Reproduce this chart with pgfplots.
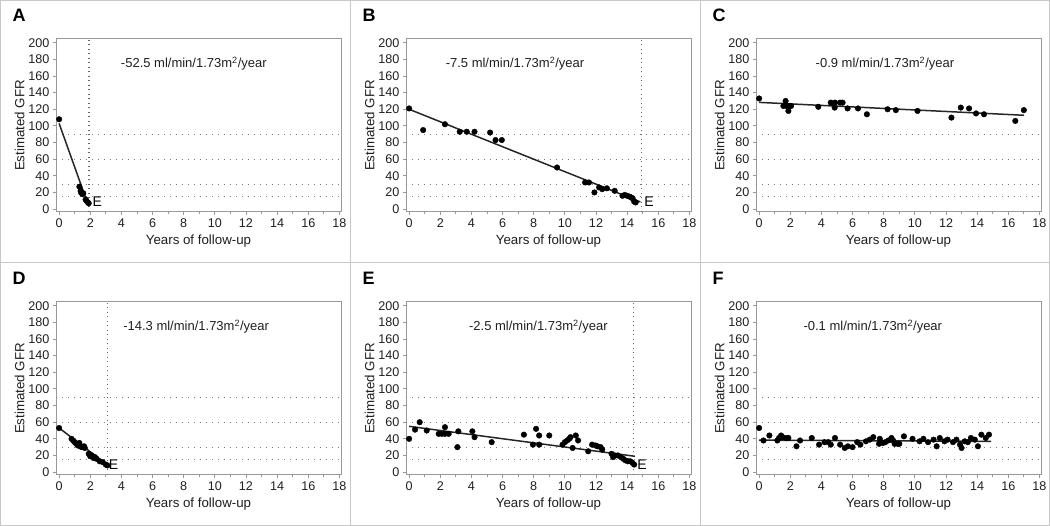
\documentclass[border=0pt]{standalone}
\usepackage{pgfplots}
\pgfplotsset{compat=1.18}
\usepackage{fontspec}
\setmainfont{Liberation Sans}
\definecolor{frame}{gray}{0.78}
\definecolor{axl}{gray}{0.6}
\definecolor{txt}{gray}{0.12}
\definecolor{grd}{gray}{0.5}

\tikzset{gl/.style={grd, line width=1.1pt, dash pattern=on 1.2pt off 4.8pt}}
\pgfplotsset{
  panel/.style={
    scale only axis, width=285pt, height=173pt,
    xmin=-0.2, xmax=18.1, ymin=-3.5, ymax=204.5,
    xtick={0,2,...,18}, ytick={0,20,...,200},
    minor x tick num=1,
    xtick pos=left, ytick pos=left,
    tick align=outside, major tick length=3pt, minor tick length=2pt,
    axis line style={axl, line width=1pt},
    every tick/.style={axl, line width=0.9pt},
    /pgf/number format/assume math mode=true,
    tick label style={font=\fontsize{12.6}{14}\selectfont, text=txt},
    xticklabel style={yshift=-0.5pt},
    label style={font=\fontsize{13.3}{15}\selectfont, text=txt},
    xlabel={Years of follow-up}, ylabel={Estimated GFR},
    xlabel style={yshift=0pt},
    ylabel style={yshift=-3pt},
    clip=false,
  },
  pts/.style={only marks, mark=*, mark size=2.8pt, black},
  fit/.style={no marks, black!85, line width=1.5pt},
}
\newcommand{\grids}{%
  \draw[gl] (axis cs:-0.2,15) -- (axis cs:18.1,15);
  \draw[gl] (axis cs:-0.2,30) -- (axis cs:18.1,30);
  \draw[gl] (axis cs:-0.2,60) -- (axis cs:18.1,60);
  \draw[gl] (axis cs:-0.2,90) -- (axis cs:18.1,90);}
\newcommand{\stopline}[1]{\draw[grd!80!black, line width=1.1pt, dash pattern=on 1.2pt off 3.3pt] (axis cs:#1,-3.5) -- (axis cs:#1,204.5);}
\newcommand{\rate}[3]{\node[font=\fontsize{13}{15}\selectfont, text=txt] at (axis cs:#1,#2) {#3 ml/min/1.73m\textsuperscript{2}/year};}
\newcommand{\Elab}[1]{\node[font=\fontsize{14}{15}\selectfont, anchor=center] at (axis cs:#1,9) {E};}
\newcommand{\plab}[3]{\node[font=\fontsize{18}{19}\selectfont\bfseries, anchor=west] at (#1pt,#2pt) {#3};}

\begin{document}
\begin{tikzpicture}
\useasboundingbox (0pt,0pt) rectangle (1050pt,-526pt);
\draw[frame, line width=1pt] (0.5pt,-0.5pt) rectangle (1049.5pt,-525.5pt);
\draw[frame, line width=1pt] (350pt,0pt) -- (350pt,-526pt);
\draw[frame, line width=1pt] (700pt,0pt) -- (700pt,-526pt);
\draw[frame, line width=1pt] (0pt,-263pt) -- (1050pt,-263pt);
\plab{9}{-15}{A}
\plab{359}{-15}{B}
\plab{709}{-15}{C}
\plab{9}{-278}{D}
\plab{359}{-278}{E}
\plab{709}{-278}{F}

% A
\begin{axis}[panel, at={(56pt,-39pt)}, anchor=north west]
\grids
\stopline{1.92}
\addplot[fit] coordinates {(0,103) (1.88,4.3)};
\addplot[pts] coordinates {(0,108) (1.30,27) (1.38,22) (1.42,19.5) (1.50,18) (1.55,19) (1.70,11.5) (1.76,10) (1.85,8) (1.90,7)};
\rate{8.65}{174.5}{-52.5}
\Elab{2.45}
\end{axis}

% B
\begin{axis}[panel, at={(406pt,-39pt)}, anchor=north west]
\grids
\stopline{14.95}
\addplot[fit] coordinates {(0,120) (14.85,8.6)};
\addplot[pts] coordinates {(0,121) (0.9,95) (2.3,102) (3.25,93) (3.7,93) (4.2,93) (5.2,92) (5.55,83) (5.95,83) (9.5,50) (11.3,32) (11.55,32) (11.9,20) (12.2,26) (12.4,24) (12.7,25) (13.2,22) (13.7,16) (13.85,17) (14.0,16) (14.15,15) (14.25,14) (14.35,13) (14.45,9) (14.55,8)};
\rate{6.8}{174.5}{-7.5}
\Elab{15.4}
\end{axis}

% C
\begin{axis}[panel, at={(756pt,-39pt)}, anchor=north west]
\grids
\addplot[fit] coordinates {(0,128.3) (17,112.8)};
\addplot[pts] coordinates {(0,133) (1.7,130) (1.56,124) (1.75,124) (1.9,124) (2.05,124) (1.88,118) (3.8,123) (4.6,128) (4.87,128) (5.2,128) (5.36,128) (4.85,122) (5.68,121) (6.35,121) (6.92,114) (8.25,120) (8.78,119) (10.17,118) (12.35,110) (12.95,122) (13.48,121) (13.93,115) (14.44,114) (16.45,106) (17.0,119)};
\rate{8.08}{174.5}{-0.9}
\end{axis}

% D
\begin{axis}[panel, at={(56pt,-302pt)}, anchor=north west]
\grids
\stopline{3.1}
\addplot[fit] coordinates {(0,53) (3.1,8.7)};
\addplot[pts] coordinates {(0,53) (0.8,40) (0.9,38) (1.0,36) (1.1,34) (1.2,32) (1.3,35) (1.35,31) (1.45,30) (1.6,31) (1.65,29) (1.9,22) (2.0,19) (2.1,20) (2.2,17) (2.3,18) (2.4,16) (2.6,13) (2.8,12) (3.0,9) (3.1,8)};
\rate{8.8}{174.5}{-14.3}
\Elab{3.5}
\end{axis}

% E
\begin{axis}[panel, at={(406pt,-302pt)}, anchor=north west]
\grids
\stopline{14.42}
\addplot[fit] coordinates {(0,55) (14.5,19)};
\addplot[pts] coordinates {(0,40) (0.38,51) (0.68,60) (1.13,50) (1.9,46) (2.1,46) (2.3,46) (2.3,54) (2.54,46) (3.1,30) (3.16,49) (4.06,49) (4.2,42) (5.3,36) (7.37,45) (7.95,33) (8.15,52) (8.35,44) (8.35,33) (9.0,44) (9.85,33) (10.0,36) (10.15,38) (10.28,40) (10.36,42) (10.5,29) (10.7,44) (10.85,38) (11.5,25) (11.75,33) (11.97,32) (12.1,31) (12.3,30) (12.4,27) (13.0,22) (13.1,18) (13.2,20) (13.4,20) (13.6,18) (13.75,16) (13.9,14) (14.05,13) (14.2,13) (14.35,11) (14.45,9)};
\rate{8.3}{174.5}{-2.5}
\Elab{14.95}
\end{axis}

% F
\begin{axis}[panel, at={(756pt,-302pt)}, anchor=north west]
\grids
\addplot[fit] coordinates {(0,38.4) (14.9,36.9)};
\addplot[pts] coordinates {(0,53) (0.28,38) (0.66,44) (1.17,38) (1.28,41) (1.41,44) (1.5,42) (1.73,41) (1.88,41) (2.4,31) (2.63,38) (3.38,41) (3.85,33) (4.2,36) (4.44,36) (4.6,33) (4.87,41) (5.2,33) (5.5,29) (5.7,31) (6.0,30) (6.3,36) (6.5,33) (6.86,37) (7.1,39) (7.33,42) (7.7,34) (7.75,40) (7.95,35) (8.1,36) (8.3,38) (8.5,41) (8.6,38) (8.7,34) (8.9,34) (9.0,34) (9.3,43) (9.85,40) (10.3,37) (10.55,40) (10.85,36) (11.2,39) (11.4,31) (11.6,41) (11.9,37) (12.1,39) (12.45,36) (12.67,39) (12.9,33) (13.0,29) (13.2,37) (13.4,36) (13.6,41) (13.85,39) (14.05,31) (14.27,45) (14.55,41) (14.76,45)};
\rate{7.3}{174.5}{-0.1}
\end{axis}
\end{tikzpicture}
\end{document}
